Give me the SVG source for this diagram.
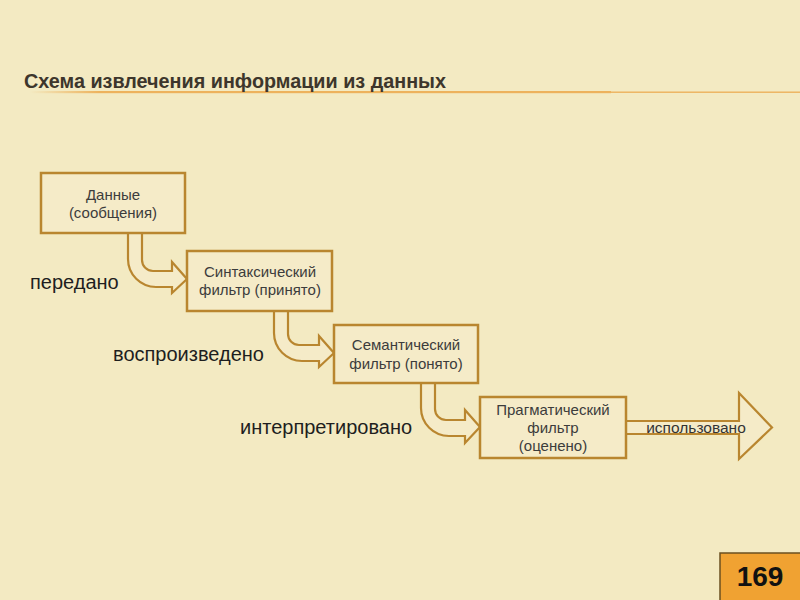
<svg xmlns="http://www.w3.org/2000/svg" width="800" height="600" viewBox="0 0 800 600">
<defs>
<style>
.box{fill:#F5EBC8;stroke:#B9862F;stroke-width:2.5}
.arr{fill:#F5EBC8;stroke:#B9862F;stroke-width:2.2;stroke-linejoin:miter}
.bt{font-family:"Liberation Sans",Arial,sans-serif;font-size:15px;fill:#3c3c3c;text-anchor:middle}
.lbl{font-family:"Liberation Sans",Arial,sans-serif;font-size:20px;fill:#1e1e1e}
</style>
<linearGradient id="ul" x1="0" x2="1" y1="0" y2="0">
<stop offset="0" stop-color="#F3EAC2"/>
<stop offset="0.12" stop-color="#EDB25C"/>
<stop offset="1" stop-color="#EDB25C"/>
</linearGradient>
</defs>
<rect width="800" height="600" fill="#F3EAC2"/>
<g id="title">
<rect x="30" y="91" width="581" height="2.2" fill="url(#ul)"/>
<rect x="611" y="91.5" width="189" height="1.4" fill="#EDB25C"/>
<text x="24" y="88" font-family="Liberation Sans,Arial,sans-serif" font-size="19.8" font-weight="bold" fill="#3d362c">Схема извлечения информации из данных</text>
</g>
<g id="connectors">
<path class="arr" d="M142 233 V260 A11 11 0 0 0 153 271 H172 V262 L187 279 L172 293 V287 H156 A28 28 0 0 1 128 259 V233"/>
<path class="arr" d="M288 311 V334 A11 11 0 0 0 299 345 H319 V336 L334 353 L319 367 V361 H302 A28 28 0 0 1 274 333 V311"/>
<path class="arr" d="M435 383 V409 A11 11 0 0 0 446 420 H465 V410 L480 427 L465 443 V436 H449 A28 28 0 0 1 421 408 V383"/>
<path class="arr" d="M626 421 H739 V393 L772 427.5 L739 459 V434 H626"/>
</g>
<g id="n1">
<rect class="box" x="41" y="173" width="144" height="60"/>
<text class="bt" x="113" y="200">Данные</text>
<text class="bt" x="113" y="218">(сообщения)</text>
</g>
<g id="n2">
<rect class="box" x="187" y="251" width="145" height="60"/>
<text class="bt" x="260" y="277">Синтаксический</text>
<text class="bt" x="260" y="295">фильтр (принято)</text>
</g>
<g id="n3">
<rect class="box" x="334" y="325" width="144" height="58"/>
<text class="bt" x="406" y="350">Семантический</text>
<text class="bt" x="406" y="369">фильтр (понято)</text>
</g>
<g id="n4">
<rect class="box" x="480" y="397" width="146" height="61"/>
<text class="bt" x="553" y="415">Прагматический</text>
<text class="bt" x="553" y="433">фильтр</text>
<text class="bt" x="553" y="451">(оценено)</text>
</g>
<g id="labels">
<text class="lbl" x="30" y="289">передано</text>
<text class="lbl" x="113" y="361">воспроизведено</text>
<text class="lbl" x="240" y="434">интерпретировано</text>
<text x="696" y="433" font-family="Liberation Sans,Arial,sans-serif" font-size="15.5" fill="#333" text-anchor="middle">использовано</text>
</g>
<g id="page">
<rect x="720" y="553" width="82" height="50" fill="#F0A232" stroke="#6b5020" stroke-width="1.5"/>
<text x="760" y="586" font-family="Liberation Sans,Arial,sans-serif" font-size="28" font-weight="bold" fill="#111" text-anchor="middle">169</text>
</g>
</svg>
